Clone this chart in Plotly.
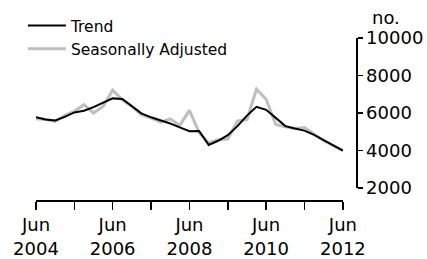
import plotly.graph_objects as go

quarters = [f"{y}-{m:02d}-01" for y in range(2004, 2013) for m in (3, 6, 9, 12)]
quarters = [q for q in quarters if "2004-06-01" <= q <= "2012-06-01"]

trend = [5770, 5650, 5600, 5790, 6030, 6120, 6310, 6560, 6780, 6750, 6380, 5980,
         5770, 5620, 5440, 5230, 5030, 5040, 4300, 4520, 4820, 5300, 5860, 6330,
         6170, 5740, 5300, 5170, 5060, 4830, 4540, 4260, 4000]
seas_adj = [5690, 5650, 5550, 5860, 6090, 6450, 6000, 6350, 7220, 6700, 6350, 5910,
            5740, 5510, 5690, 5340, 6140, 4960, 4400, 4570, 4610, 5570, 5650, 7270,
            6730, 5390, 5270, 5170, 5220, 4870, 4520, 4260, 4000]

x_tickvals = [f"{y}-06-01" for y in range(2004, 2013)]
x_ticktext = [f"Jun<br>{y}" if (y - 2004) % 2 == 0 else "" for y in range(2004, 2013)]
y_tickvals = [2000, 4000, 6000, 8000, 10000]
y_ticktext = ["2000", "4000", "6000", "8000", "10000"]

FONT = "DejaVu Sans"

fig = go.Figure()
fig.add_trace(go.Scatter(x=quarters, y=seas_adj, mode="lines", name="Seasonally Adjusted",
                         line=dict(color="#BEBEBE", width=3)))
fig.add_trace(go.Scatter(x=quarters, y=trend, mode="lines", name="Trend",
                         line=dict(color="#000000", width=2)))

fig.update_layout(
    width=427, height=259,
    margin=dict(l=36, r=71, t=38, b=59, autoexpand=False),
    paper_bgcolor="white", plot_bgcolor="white",
    font=dict(family=FONT, size=18, color="#000000"),
    showlegend=True,
    legend=dict(x=-0.041, y=1.179, xanchor="left", yanchor="top",
                bgcolor="rgba(0,0,0,0)", borderwidth=0, traceorder="reversed",
                font=dict(family=FONT, size=15.5), itemwidth=38,
                tracegroupgap=0),
    xaxis=dict(type="date", range=["2004-06-01", "2012-06-01"], domain=[0, 0.959],
               anchor="free", position=0,
               tickvals=x_tickvals, ticktext=x_ticktext,
               showline=True, linecolor="#000000", linewidth=1.5,
               ticks="outside", ticklen=8, tickwidth=1.5, tickcolor="#000000",
               showgrid=False, zeroline=False,
               tickfont=dict(family=FONT, size=18)),
    yaxis=dict(range=[2000, 10000], domain=[0.074, 1], side="right",
               anchor="free", position=1,
               tickvals=y_tickvals, ticktext=y_ticktext,
               showline=True, linecolor="#000000", linewidth=1.5,
               ticks="outside", ticklen=5, tickwidth=1.5, tickcolor="#000000",
               showgrid=False, zeroline=False,
               tickfont=dict(family=FONT, size=18)),
    annotations=[dict(text="no.", xref="paper", yref="paper", x=1.094, y=1.125,
                      xanchor="center", yanchor="middle", showarrow=False,
                      font=dict(family=FONT, size=18))],
)

fig.write_html("out.html", config={"displayModeBar": False, "staticPlot": True},
               post_script="document.body.style.margin='0';")
